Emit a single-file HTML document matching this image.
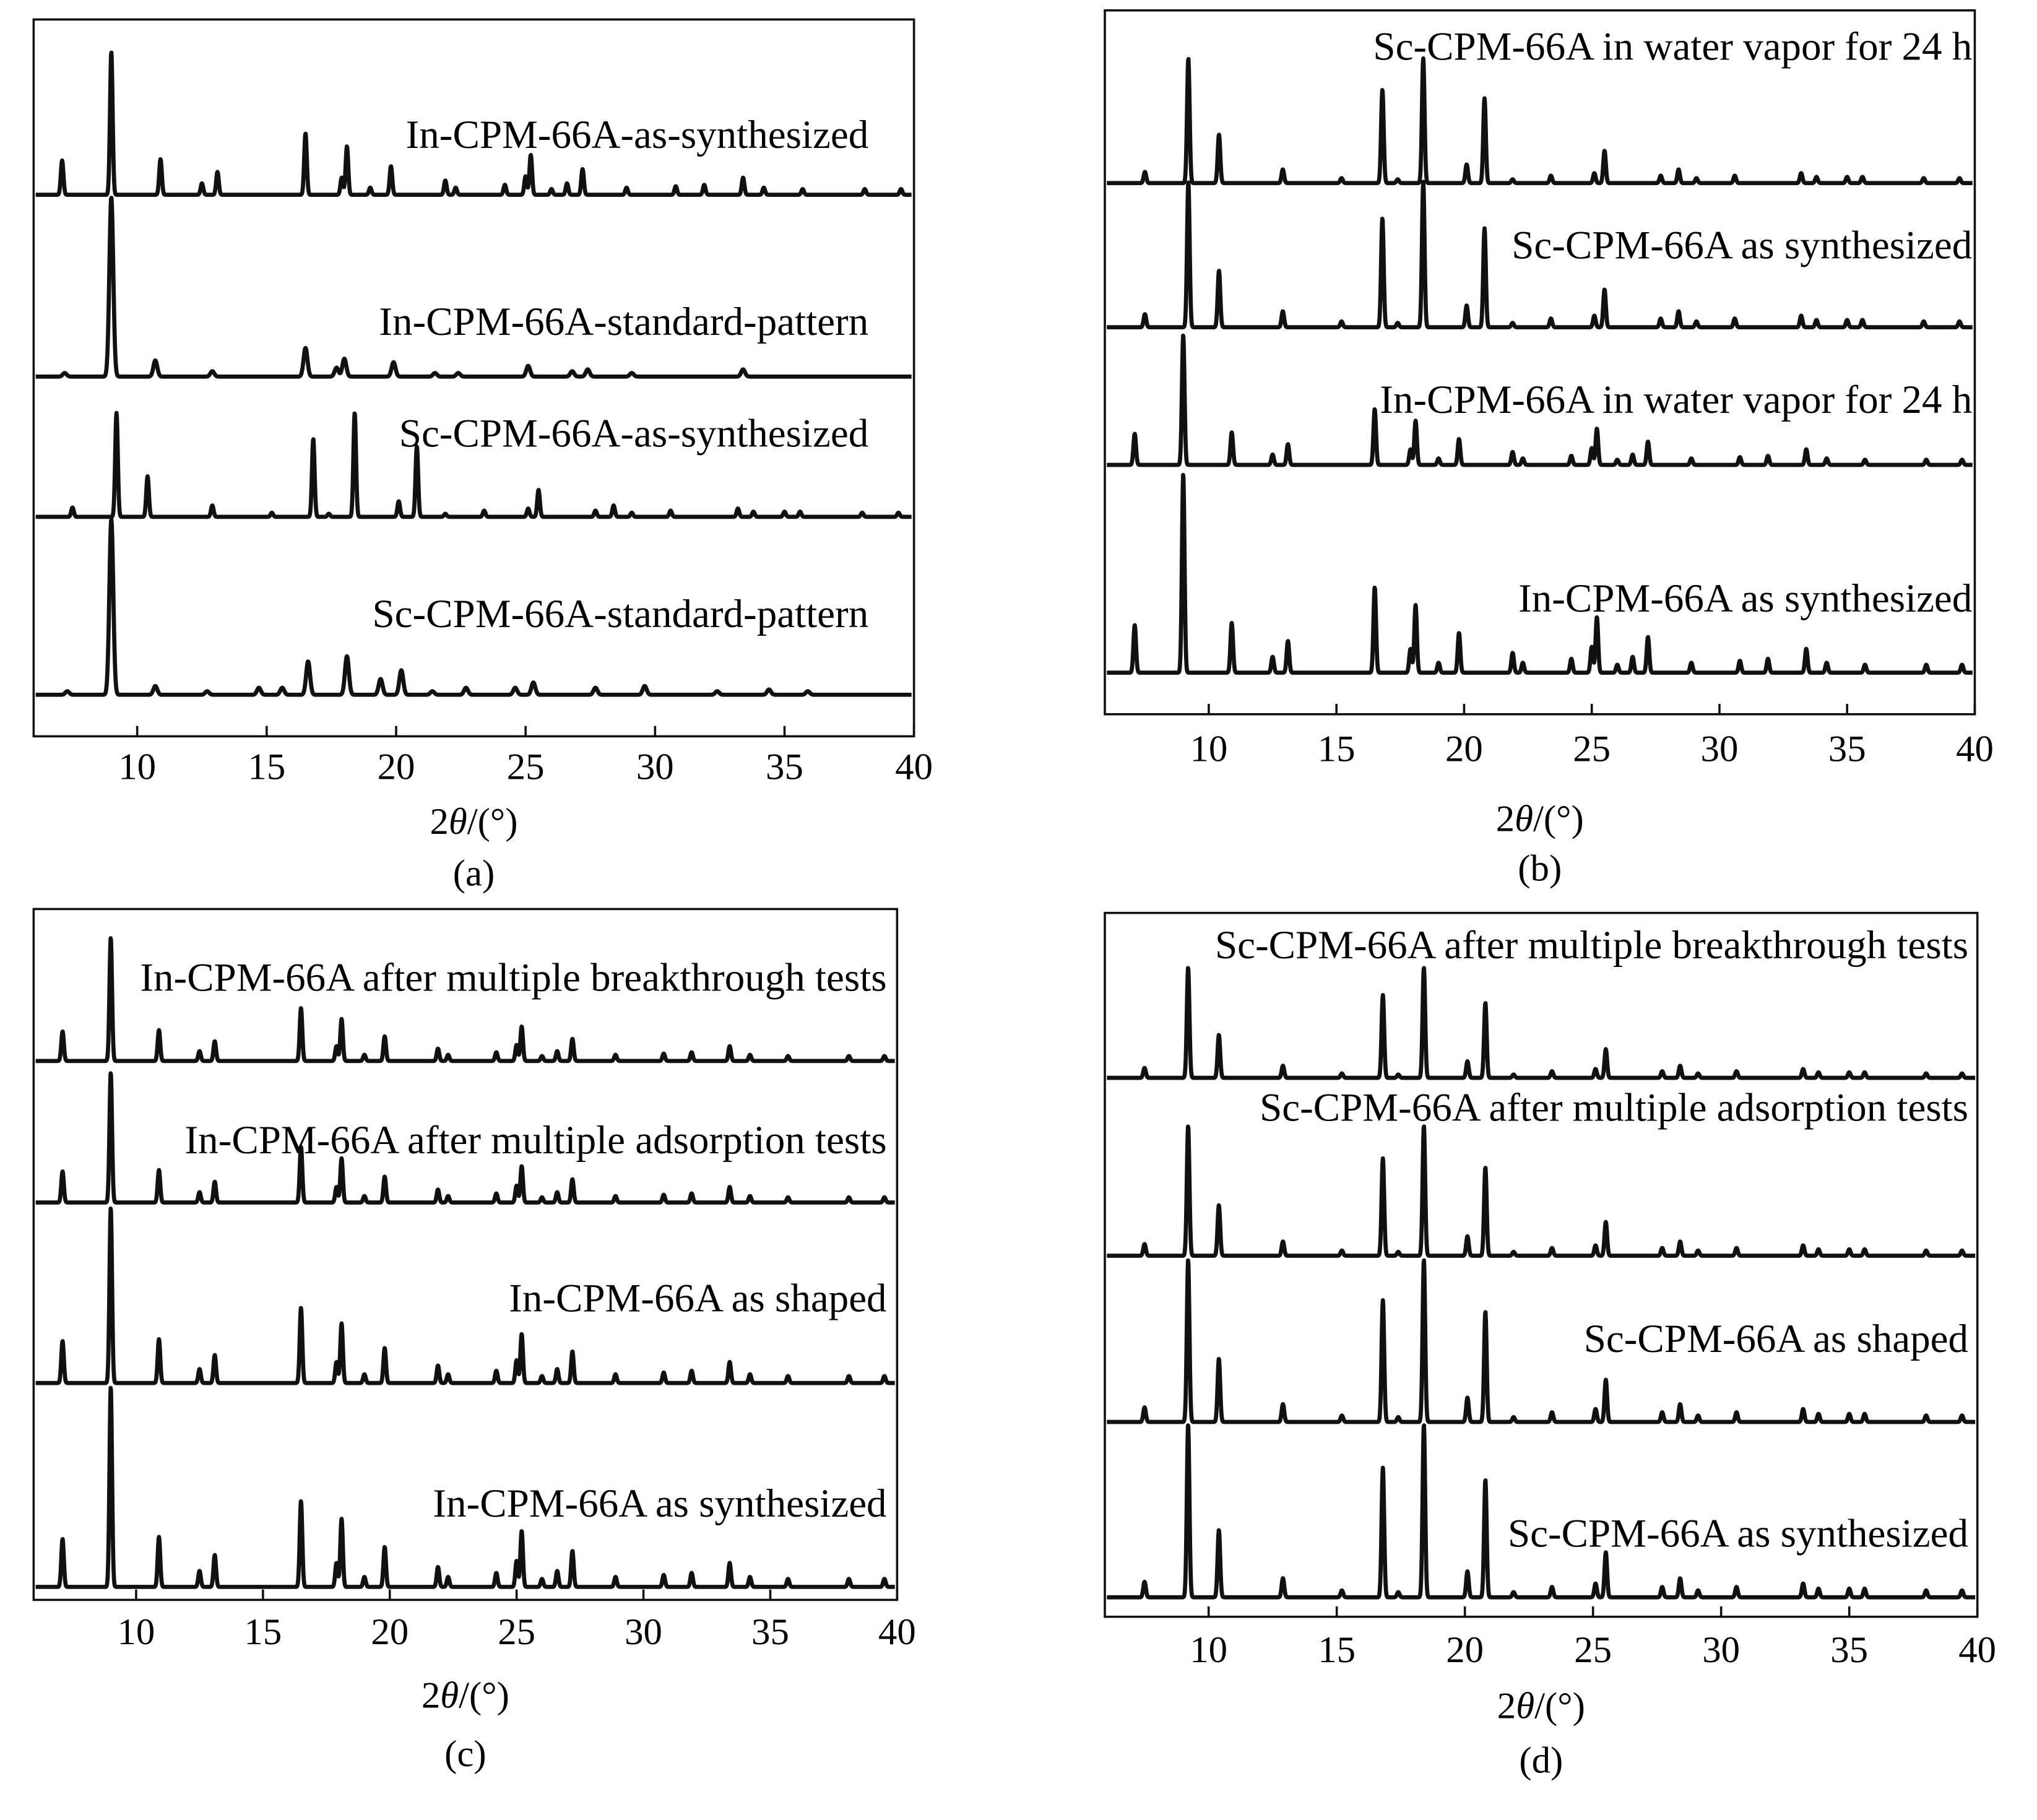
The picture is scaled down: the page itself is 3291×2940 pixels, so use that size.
<!DOCTYPE html>
<html><head><meta charset="utf-8"><style>
html,body{margin:0;padding:0;background:#fff}
svg{display:block}
text{font-family:"Liberation Serif",serif;fill:#000}
</style></head><body>
<svg id="fig" width="3291" height="2940" viewBox="0 0 1567 1401.5" xmlns="http://www.w3.org/2000/svg"></svg>
<script>
// Peak data (2θ positions and relative intensities)
const inPos = [7.1,9.0,10.9,12.5,13.1,16.5,17.9,18.1,19.0,19.8,21.9,22.3,24.2,25.0,25.2,26.0,26.6,27.2,28.9,30.8,31.9,33.4,34.2,35.7,38.1,39.5];
const inInt = [0.24,1.0,0.25,0.08,0.16,0.43,0.12,0.34,0.05,0.2,0.1,0.05,0.07,0.13,0.28,0.04,0.08,0.18,0.05,0.06,0.07,0.12,0.05,0.04,0.04,0.04];
const scPos = [7.5,9.2,10.4,12.9,15.2,16.8,17.4,18.4,20.1,20.8,21.9,23.4,25.1,25.5,27.7,28.4,29.1,30.6,33.2,33.8,35.0,35.6,38.0,39.4];
const scInt = [0.09,1.0,0.39,0.11,0.04,0.75,0.03,1.0,0.15,0.68,0.03,0.06,0.08,0.26,0.06,0.11,0.04,0.06,0.08,0.05,0.05,0.05,0.04,0.04];
const inStdPos = [7.2,9.0,10.7,12.9,16.5,17.7,18.0,19.9,21.5,22.4,25.1,26.8,27.4,29.1,33.4];
const inStdInt = [0.02,1.0,0.09,0.03,0.16,0.05,0.1,0.08,0.02,0.02,0.06,0.03,0.04,0.02,0.04];
const scStdPos = [7.3,9.0,10.7,12.7,14.7,15.6,16.6,18.1,19.4,20.2,21.4,22.7,24.6,25.3,27.7,29.6,32.4,34.4,35.9];
const scStdInt = [0.02,1.0,0.05,0.02,0.04,0.04,0.19,0.22,0.09,0.14,0.02,0.04,0.04,0.07,0.04,0.05,0.02,0.03,0.02];
const tickValues = [10,15,20,25,30,35,40];
const tickLabels = ["10","15","20","25","30","35","40"];

const patterns = {
  in:{pos:inPos,val:inInt,w:0.05},
  sc:{pos:scPos,val:scInt,w:0.05},
  inStd:{pos:inStdPos,val:inStdInt,w:0.075},
  scStd:{pos:scStdPos,val:scStdInt,w:0.075}
};
const panels = [
 {id:'a',left:25,right:703,top:15,bottom:567,xmin:6.0,tickY:590,labY:632,capY:672,labelRight:668,
  traces:[['in',150,110,'In-CPM-66A-as-synthesized',103],['inStd',290,138,'In-CPM-66A-standard-pattern',247],
          ['sc',398,80,'Sc-CPM-66A-as-synthesized',333],['scStd',535,135,'Sc-CPM-66A-standard-pattern',472]]},
 {id:'b',left:850,right:1520,top:8,bottom:550,xmin:5.93,tickY:576,labY:630,capY:668,labelRight:1518,
  traces:[['sc',141,96,'Sc-CPM-66A in water vapor for 24 h',35],['sc',252,112,'Sc-CPM-66A as synthesized',188],
          ['in',358,100,'In-CPM-66A in water vapor for 24 h',307],['in',518,153,'In-CPM-66A as synthesized',460]]},
 {id:'c',left:25,right:690,top:700,bottom:1232,xmin:5.96,tickY:1256,labY:1305,capY:1350,labelRight:682,
  traces:[['in',817,95,'In-CPM-66A after multiple breakthrough tests',752],['in',926,100,'In-CPM-66A after multiple adsorption tests',877],
          ['in',1065,135,'In-CPM-66A as shaped',999],['in',1222,154,'In-CPM-66A as synthesized',1157]]},
 {id:'d',left:850,right:1522,top:703,bottom:1245,xmin:5.95,tickY:1270,labY:1313,capY:1355,labelRight:1515,
  traces:[['sc',830,85,'Sc-CPM-66A after multiple breakthrough tests',727],['sc',967,100,'Sc-CPM-66A after multiple adsorption tests',852],
          ['sc',1095,125,'Sc-CPM-66A as shaped',1030],['sc',1230,133,'Sc-CPM-66A as synthesized',1180]]}
];
const NS='http://www.w3.org/2000/svg';
const svg=document.getElementById('fig');
function mk(tag,attrs,parent){const e=document.createElementNS(NS,tag);for(const k in attrs)e.setAttribute(k,attrs[k]);(parent||svg).appendChild(e);return e;}
panels.forEach(p=>{
  const g=mk('g',{});
  
  
  const xs=v=>p.left+(v-p.xmin)/(40-p.xmin)*(p.right-p.left);
  const box=mk('rect',{x:p.left,y:p.top,width:p.right-p.left,height:p.bottom-p.top,fill:'none',stroke:'#111','stroke-width':1.7},g);
  
  
  tickValues.forEach((t,i)=>{
    const x=xs(t);
    const tk=mk('line',{x1:x,x2:x,y1:p.bottom,y2:p.bottom-8,stroke:'#111','stroke-width':1.7},g);
    
    
    const tl=mk('text',{x:x,y:p.tickY+10,'font-size':29,'text-anchor':'middle'},g);
    tl.textContent=tickLabels[i];
    
    
  });
  const xl=mk('text',{x:(p.left+p.right)/2,y:p.labY+10,'font-size':29,'text-anchor':'middle'},g);
  xl.innerHTML='2<tspan font-style="italic">θ</tspan>/(°)';
  
  
  const cp=mk('text',{x:(p.left+p.right)/2,y:p.capY+10,'font-size':29,'text-anchor':'middle'},g);
  cp.textContent='('+p.id+')';
  
  
  p.traces.forEach(tr=>{
    const pat=patterns[tr[0]], base=tr[1], h=tr[2];
    let d='';
    for(let v=p.xmin+0.08; v<=39.92; v+=0.015){
      let y=0;
      for(let k=0;k<pat.pos.length;k++){const dx=(v-pat.pos[k])/pat.w;if(Math.abs(dx)<6)y+=pat.val[k]*Math.exp(-0.5*dx*dx);}
      d+=(d?'L':'M')+xs(v).toFixed(2)+' '+(base-y*h).toFixed(2);
    }
    const path=mk('path',{d:d,fill:'none',stroke:'#111','stroke-width':3.2,'stroke-linejoin':'round'},g);
    
    
    const lb=mk('text',{x:p.labelRight,y:tr[4]+11,'font-size':31,'text-anchor':'end'},g);
    lb.textContent=tr[3];
    
    
  });
});
</script>
</body></html>
